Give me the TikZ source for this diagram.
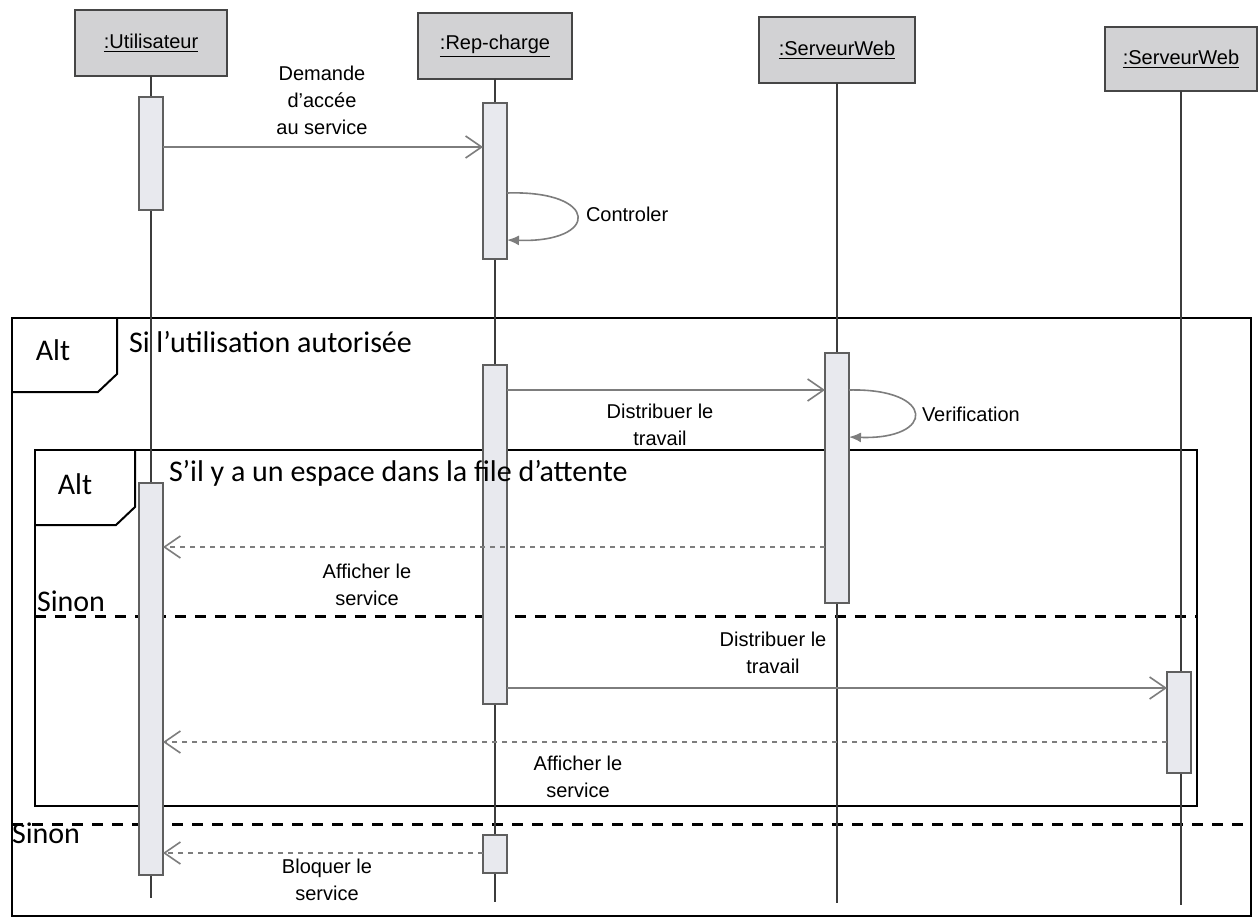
\documentclass[tikz,border=0pt]{standalone}
\usepackage{fontspec}
\setmainfont{Liberation Sans}
\newfontfamily\calib{Carlito}
\usetikzlibrary{arrows.meta}
\definecolor{headfill}{RGB}{210,210,212}
\definecolor{headline}{RGB}{70,70,70}
\definecolor{actfill}{RGB}{232,233,238}
\definecolor{actline}{RGB}{95,95,95}
\definecolor{msgcol}{RGB}{125,125,125}
\definecolor{lifecol}{RGB}{60,60,60}

\begin{document}
\begin{tikzpicture}[x=0.5pt,y=-0.5pt,
  every node/.style={inner sep=0pt, outer sep=0pt},
  head/.style={draw=headline, line width=1pt, fill=headfill, minimum height=33pt,
    font=\fontsize{10}{12}\selectfont},
  act/.style={draw=actline, line width=0.7pt, fill=actfill, minimum width=12pt},
  life/.style={draw=lifecol, line width=0.6pt},
  msg/.style={draw=msgcol, line width=0.8pt, -{Straight Barb[length=8pt,width=11pt]}},
  reply/.style={msg, dash pattern=on 2.5pt off 2.5pt},
  selfmsg/.style={draw=msgcol, line width=0.8pt, -{Latex[length=6pt,width=5pt]}},
  lbl/.style={align=center, font=\fontsize{10}{13.5}\selectfont},
  frame/.style={draw=black, line width=1pt},
  sep/.style={draw=black, line width=1.5pt, dash pattern=on 5.5pt off 4.5pt},
  guard/.style={font=\calib\fontsize{15}{17}\selectfont}
]
\useasboundingbox (0,0) rectangle (1260,920);
\fill[white] (0,0) rectangle (1260,920);

% combined fragments: outlines, tabs and separators
\draw[frame] (12,318) rectangle (1251,916);
\draw[frame] (12,392) -- (98,392) -- (117,374) -- (117,318);
\draw[frame] (35,450) rectangle (1197,806);
\draw[frame] (35,525) -- (116,525) -- (135,507) -- (135,450);
\draw[sep] (35,616) -- (1197,616);
\draw[sep] (12,824) -- (1251,824);

% lifeline heads
\node[head, minimum width=76pt] (hU) at (151,43) {\underline{:Utilisateur}};
\node[head, minimum width=77pt] (hR) at (495,46) {\underline{:Rep-charge}};
\node[head, minimum width=78pt] (hS) at (837,50) {\underline{:ServeurWeb}};
\node[head, minimum width=76pt, minimum height=32pt] (hT) at (1181,59) {\underline{:ServeurWeb}};

% lifelines
\draw[life] (hU.south) -- (hU.south |- 0,898);
\draw[life] (hR.south) -- (hR.south |- 0,902);
\draw[life] (hS.south) -- (hS.south |- 0,903);
\draw[life] (hT.south) -- (hT.south |- 0,905);

% activation bars
\node[act, minimum height=56.5pt] (aU1) at (151,153.5) {};
\node[act, minimum height=78pt] (aR1) at (495,181) {};
\node[act, minimum height=169.5pt] (aR2) at (495,534.5) {};
\node[act, minimum height=19pt] (aR3) at (495,854) {};
\node[act, minimum height=125pt] (aS1) at (837,478) {};
\node[act, minimum height=196pt] (aU2) at (151,679) {};
\node[act, minimum height=50.5pt] (aS2) at (1179,722.5) {};

% fragment operators and guards
\node[guard] (altA) at (53,350) {Alt};
\node[guard, anchor=west] (condA) at (129,342) {Si l’utilisation autorisée};
\node[guard] (altB) at (75,484) {Alt};
\node[guard, anchor=west] (condB) at (169,473) {S’il y a un espace dans la file d’attente};
\node[guard, anchor=base west] (elseB) at (37,611) {Sinon};
\node[guard, anchor=base west] (elseA) at (12,843) {Sinon};

% messages
\draw[msg] (aU1.east |- 0,147) -- (aR1.west |- 0,147);
\node[lbl] (l1) at (322,100) {Demande\\d'accée\\au service};

\draw[selfmsg] (aR1.east |- 0,193) .. controls (600,190) and (600,243) .. (aR1.east |- 0,240);
\node[lbl, anchor=west] (l2) at (586,214) {Controler};

\draw[msg] (aR2.east |- 0,390) -- (aS1.west |- 0,390);
\node[lbl] (l3) at (660,425) {Distribuer le\\travail};

\draw[selfmsg] (aS1.east |- 0,390) .. controls (936,388) and (936,440) .. (aS1.east |- 0,437);
\node[lbl, anchor=west] (l4) at (922,414) {Verification};

\draw[reply] (aS1.west |- 0,547) -- (aU2.east |- 0,547);
\node[lbl] (l5) at (367,585) {Afficher le\\service};

\draw[msg] (aR2.east |- 0,688) -- (aS2.west |- 0,688);
\node[lbl] (l6) at (773,653) {Distribuer le\\travail};

\draw[reply] (aS2.west |- 0,742) -- (aU2.east |- 0,742);
\node[lbl] (l7) at (578,777) {Afficher le\\service};

\draw[reply] (aR3.west |- 0,853) -- (aU2.east |- 0,853);
\node[lbl] (l8) at (327,880) {Bloquer le\\service};
\end{tikzpicture}
\end{document}
